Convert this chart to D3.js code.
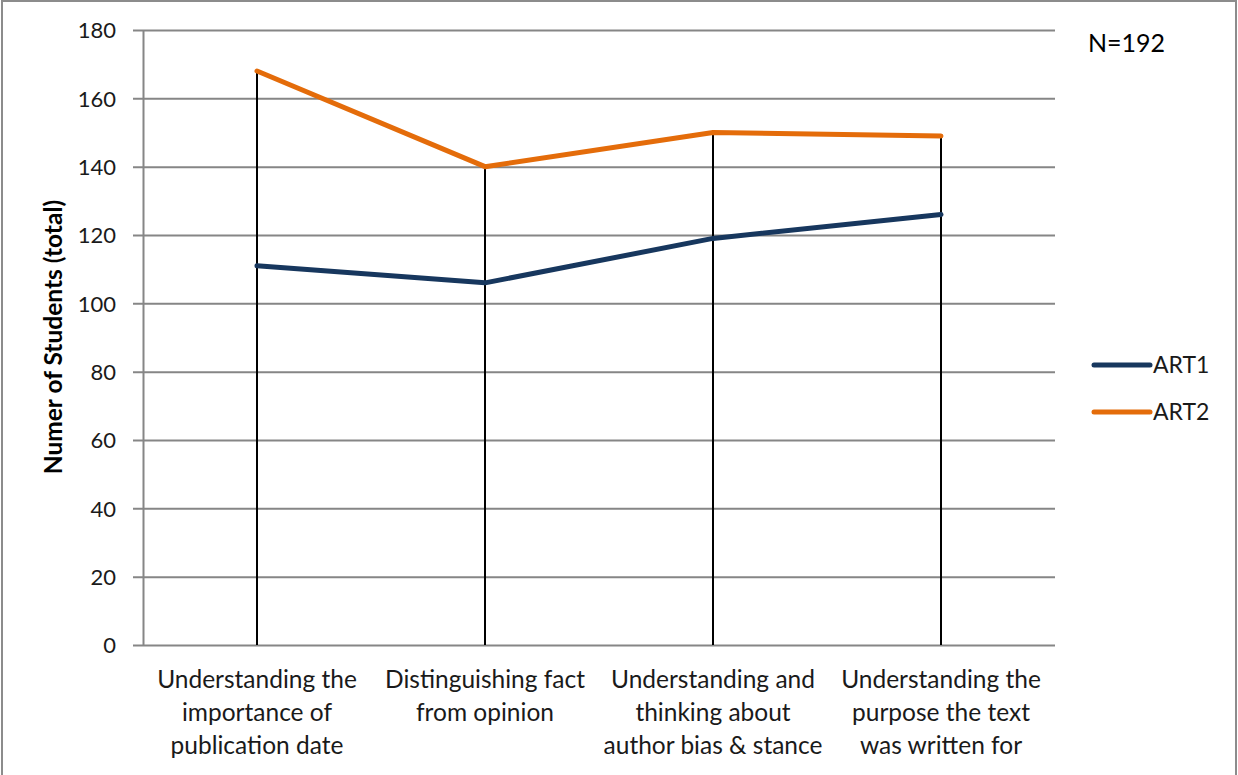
<!DOCTYPE html>
<html><head><meta charset="utf-8">
<script src="https://cdn.jsdelivr.net/npm/d3@7"></script>
<style>body{margin:0;background:#fff;} svg{display:block;font-family:Lato,"Open Sans",sans-serif;}</style>
</head><body>
<svg id="c" width="1238" height="775"></svg>
<script>
const categories = [
  ["Understanding the","importance of","publication date"],
  ["Distinguishing fact","from opinion"],
  ["Understanding and","thinking about","author bias & stance"],
  ["Understanding the","purpose the text","was written for"]
];
const seriesNames = ["ART1","ART2"];
const art1 = [111, 106, 119, 126];
const art2 = [168, 140, 150, 149];
const yTicks = [0,20,40,60,80,100,120,140,160,180];
const colors = {"ART1":"#17375E","ART2":"#E46C0A"};
const series = [{name:"ART1", values:art1},{name:"ART2", values:art2}];

const svg = d3.select("#c");
svg.append("rect").attr("x",2).attr("y",1).attr("width",1234).attr("height",790)
  .attr("fill","none").attr("stroke","#8c8c8c").attr("stroke-width",2);

const L=143, R=1055, T=30, B=645;
const x = d3.scaleBand().domain(d3.range(categories.length)).range([L,R]);
const y = d3.scaleLinear().domain([0,180]).range([B,T]);
const g = svg.append("g");

// y axis with gridlines
const ax = g.append("g").attr("transform",`translate(${L},0)`)
  .call(d3.axisLeft(y).tickValues(yTicks).tickSize(10).tickPadding(17).tickSizeOuter(0));
ax.select(".domain").attr("stroke","#868686").attr("stroke-width",2);
ax.selectAll(".tick line").attr("stroke","#868686").attr("stroke-width",2).attr("x1",-10).attr("x2",R-L);
ax.selectAll(".tick text").attr("fill","#1a1a1a").attr("font-size",22).attr("font-family","Lato").attr("dy","0.36em");

// drop lines
g.selectAll(".drop").data(d3.range(categories.length)).join("line")
  .attr("x1",i=>x(i)+x.bandwidth()/2).attr("x2",i=>x(i)+x.bandwidth()/2)
  .attr("y1",i=>y(d3.max(series,s=>s.values[i]))).attr("y2",y(0))
  .attr("stroke","#000").attr("stroke-width",2);

// lines
const line = d3.line().x((d,i)=>x(i)+x.bandwidth()/2).y(d=>y(d));
g.selectAll(".ser").data(series).join("path")
  .attr("d",d=>line(d.values)).attr("fill","none")
  .attr("stroke",d=>colors[d.name]).attr("stroke-width",5)
  .attr("stroke-linecap","round").attr("stroke-linejoin","round");

// category labels
const cl = g.selectAll(".cat").data(categories).join("text")
  .attr("text-anchor","middle").attr("font-size",24.5).attr("fill","#1a1a1a")
  .attr("x",(d,i)=>x(i)+x.bandwidth()/2);
cl.selectAll("tspan").data(d=>d).join("tspan")
  .attr("x",function(){return this.parentNode.getAttribute("x");})
  .attr("y",(d,j)=>688+j*33).text(d=>d);

// y title
svg.append("text").attr("transform","translate(62,337) rotate(-90)")
  .attr("text-anchor","middle").attr("font-weight","bold").attr("font-size",24.5)
  .attr("fill","#000").text("Numer of Students (total)");

// N label
svg.append("text").attr("x",1088).attr("y",52).attr("font-size",25).attr("fill","#000").text("N=192");

// legend
const lg = svg.selectAll(".lg").data(series).join("g")
  .attr("transform",(d,i)=>`translate(1094,${365+i*47})`);
lg.append("line").attr("x1",0).attr("x2",56).attr("stroke",d=>colors[d.name])
  .attr("stroke-width",5).attr("stroke-linecap","round");
lg.append("text").attr("x",59).attr("y",7.5).attr("font-size",23).attr("fill","#1a1a1a").text(d=>d.name);
</script>
</body></html>
